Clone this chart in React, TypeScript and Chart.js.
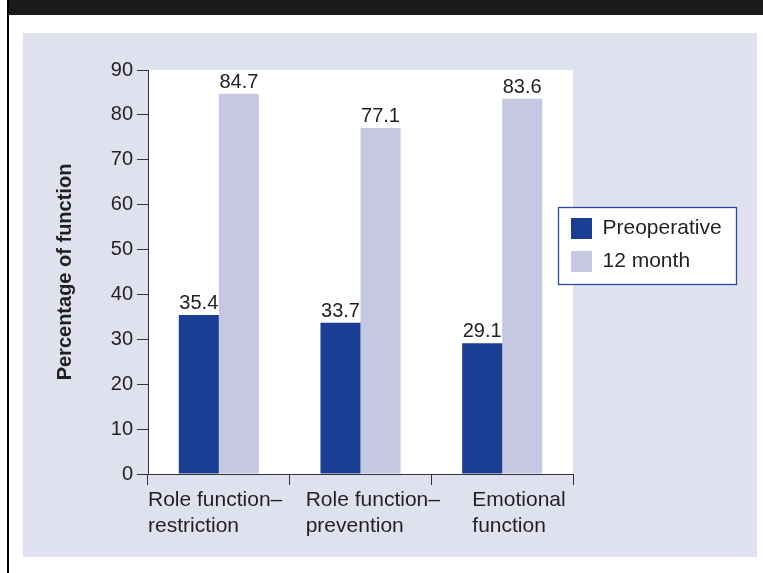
import React, { useEffect, useRef } from 'react';
import { Chart, registerables } from 'chart.js';

Chart.register(...registerables);

const categories: string[][] = [
  ['Role function–', 'restriction'],
  ['Role function–', 'prevention'],
  ['Emotional', 'function'],
];
const seriesNames = ['Preoperative', '12 month'];
const preoperative = [35.4, 33.7, 29.1];
const twelveMonth = [84.7, 77.1, 83.6];
const yMin = 0;
const yMax = 90;
const yStep = 10;
const yTitle = 'Percentage of function';

const FONT = '"Liberation Sans", Arial, Helvetica, sans-serif';
const TEXT = '#231f20';
const AXIS = '#333333';
const DARK_BLUE = '#1b3e95';
const LIGHT_LAV = '#c6c7e3';
// how far each category's label block is indented from its category's left boundary
const LABEL_INDENT = [0, 16, 41];

const plotBgPlugin = {
  id: 'plotBg',
  beforeDraw(chart: any) {
    const { ctx, chartArea } = chart;
    ctx.save();
    ctx.fillStyle = '#ffffff';
    ctx.fillRect(chartArea.left, chartArea.top, chartArea.right - chartArea.left, chartArea.bottom - chartArea.top);
    const bx = chartArea.right - 15;
    const by = chartArea.top + 137;
    ctx.fillStyle = '#ffffff';
    ctx.fillRect(bx, by, 178, 77);
    ctx.strokeStyle = '#2c4b9c';
    ctx.lineWidth = 1.3;
    ctx.strokeRect(bx + 0.5, by + 0.5, 178, 77);
    ctx.restore();

    // left-align the x labels to the category boundaries
    const xs = chart.scales.x;
    if (xs && xs.getLabelItems) {
      const items = xs.getLabelItems(chartArea);
      const n = chart.data.labels.length;
      const cw = (xs.right - xs.left) / n;
      items.forEach((it: any, i: number) => {
        if (it && it.options && it.options.translation) {
          it.options.translation[0] = xs.left + cw * i + (LABEL_INDENT[i] || 0);
        }
      });
    }
  },
};

const legendPlacePlugin = {
  id: 'legendPlace',
  afterLayout(chart: any) {
    const lg = chart.legend;
    const ca = chart.chartArea;
    if (!lg || !ca) return;
    const left = ca.right - 14;
    const top = ca.top + 136;
    lg.left = left;
    lg.top = top;
    lg.right = left + 178;
    lg.bottom = top + 85;
    lg.width = 178;
    lg.height = 85;
  },
};

const valueLabelPlugin = {
  id: 'valueLabels',
  afterDatasetsDraw(chart: any) {
    const { ctx } = chart;
    ctx.save();
    ctx.font = `20px ${FONT}`;
    ctx.fillStyle = TEXT;
    ctx.textAlign = 'center';
    ctx.textBaseline = 'alphabetic';
    chart.data.datasets.forEach((ds: any, di: number) => {
      const meta = chart.getDatasetMeta(di);
      meta.data.forEach((bar: any, i: number) => {
        const v = ds.data[i];
        ctx.fillText(v.toFixed(1), bar.x, bar.y - 6);
      });
    });
    ctx.restore();
  },
};

export default function App() {
  const ref = useRef<HTMLCanvasElement | null>(null);

  useEffect(() => {
    if (!ref.current) return;
    const chart = new Chart(ref.current, {
      type: 'bar',
      data: {
        labels: categories,
        datasets: [
          {
            label: seriesNames[0],
            data: preoperative,
            backgroundColor: DARK_BLUE,
            borderWidth: 0,
            categoryPercentage: 0.565,
            barPercentage: 1,
          },
          {
            label: seriesNames[1],
            data: twelveMonth,
            backgroundColor: LIGHT_LAV,
            borderWidth: 0,
            categoryPercentage: 0.565,
            barPercentage: 1,
          },
        ],
      },
      options: {
        responsive: false,
        animation: false,
        devicePixelRatio: 1,
        layout: { padding: { left: 49, right: 190, top: 70, bottom: 0 } },
        plugins: {
          tooltip: { enabled: false },
          legend: {
            position: 'chartArea' as any,
            align: 'start',
            labels: {
              boxWidth: 21,
              boxHeight: 21,
              padding: 12,
              color: TEXT,
              font: { family: FONT, size: 21 },
            },
          },
        },
        scales: {
          x: {
            grid: {
              offset: true,
              drawOnChartArea: false,
              drawTicks: true,
              tickLength: 11,
              color: AXIS,
              lineWidth: 1,
            },
            border: { display: true, color: AXIS, width: 1 },
            ticks: {
              color: TEXT,
              font: { family: FONT, size: 21, lineHeight: 1.2 },
              padding: 3,
              align: 'start',
              labelOffset: 0,
              maxRotation: 0,
              autoSkip: false,
            },
            afterFit(scale: any) {
              scale.height = 99;
            },
          },
          y: {
            min: yMin,
            max: yMax,
            grid: {
              drawOnChartArea: false,
              drawTicks: true,
              tickLength: 11,
              color: AXIS,
              lineWidth: 1,
            },
            border: { display: true, color: AXIS, width: 1 },
            ticks: {
              stepSize: yStep,
              color: TEXT,
              font: { family: FONT, size: 20 },
              padding: 4,
            },
            title: {
              display: true,
              text: yTitle,
              color: TEXT,
              font: { family: FONT, size: 20, weight: 'bold' },
              padding: { top: 4, bottom: 4 },
            },
            afterFit(scale: any) {
              scale.width = 99;
            },
          },
        },
      },
      plugins: [plotBgPlugin, legendPlacePlugin, valueLabelPlugin],
    } as any);
    return () => chart.destroy();
  }, []);

  return (
    <div style={{ position: 'absolute', left: 0, top: 0, width: 763, height: 573, background: '#ffffff', overflow: 'hidden' }}>
      <div style={{ position: 'absolute', left: 9, top: 0, width: 754, height: 15, background: '#1a1a1a' }} />
      <div style={{ position: 'absolute', left: 7, top: 0, width: 2, height: 573, background: '#000000' }} />
      <div style={{ position: 'absolute', left: 23, top: 33, width: 734, height: 524, background: '#dfe1ef' }} />
      <canvas ref={ref} width={763} height={573} style={{ position: 'absolute', left: 0, top: 0, width: 763, height: 573 }} />
    </div>
  );
}
